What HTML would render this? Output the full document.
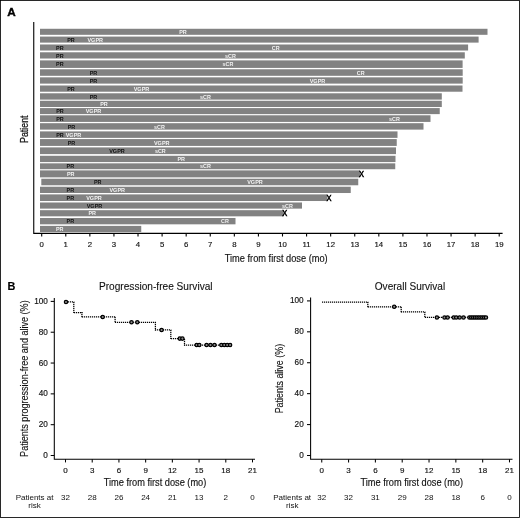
<!DOCTYPE html>
<html><head><meta charset="utf-8"><title>Figure</title>
<style>html,body{margin:0;padding:0;background:#fff}body{width:520px;height:518px;overflow:hidden}svg{display:block;will-change:transform;filter:grayscale(1)}text{font-family:"Liberation Sans",sans-serif}</style>
</head><body>
<svg width="520" height="518" viewBox="0 0 520 518">
<rect x="0" y="0" width="520" height="518" fill="#fff"/>
<rect x="0.42" y="0.42" width="519.16" height="517.16" fill="none" stroke="#000" stroke-width="0.84"/>
<defs><filter id="soft" x="0" y="0" width="520" height="518" filterUnits="userSpaceOnUse"><feGaussianBlur stdDeviation="0.32"/></filter></defs>
<g filter="url(#soft)">
<text x="7.3" y="15.9" font-size="11.7" font-weight="bold" fill="#000" stroke="#000" stroke-width="0.4">A</text>
<text x="7.6" y="290.3" font-size="11.7" font-weight="bold" fill="#000" stroke="#000" stroke-width="0.15" textLength="7.9" lengthAdjust="spacingAndGlyphs">B</text>
<g fill="#828282">
<rect x="40.00" y="28.78" width="447.50" height="6.04"/>
<rect x="40.00" y="36.58" width="438.60" height="6.04"/>
<rect x="40.00" y="44.48" width="428.10" height="6.04"/>
<rect x="40.00" y="52.28" width="424.80" height="6.24"/>
<rect x="40.00" y="60.38" width="422.60" height="7.54"/>
<rect x="40.00" y="69.28" width="422.70" height="6.54"/>
<rect x="40.00" y="77.33" width="422.70" height="6.29"/>
<rect x="40.00" y="85.48" width="422.50" height="6.24"/>
<rect x="40.00" y="93.28" width="401.80" height="6.34"/>
<rect x="40.00" y="100.78" width="401.80" height="6.24"/>
<rect x="40.00" y="108.08" width="399.75" height="6.04"/>
<rect x="40.00" y="115.28" width="390.50" height="6.64"/>
<rect x="40.00" y="123.18" width="383.50" height="6.44"/>
<rect x="40.00" y="131.38" width="357.50" height="6.49"/>
<rect x="40.00" y="139.08" width="356.75" height="6.84"/>
<rect x="40.00" y="147.38" width="356.00" height="6.74"/>
<rect x="40.00" y="155.78" width="355.50" height="6.29"/>
<rect x="40.00" y="163.33" width="355.25" height="5.89"/>
<rect x="40.00" y="170.38" width="320.00" height="6.99"/>
<rect x="41.30" y="178.73" width="316.95" height="6.54"/>
<rect x="40.00" y="186.73" width="310.75" height="6.29"/>
<rect x="40.00" y="194.38" width="287.50" height="6.64"/>
<rect x="40.00" y="202.48" width="262.00" height="6.14"/>
<rect x="40.00" y="210.18" width="243.75" height="6.14"/>
<rect x="40.00" y="217.98" width="195.50" height="6.34"/>
<rect x="40.00" y="225.88" width="101.25" height="6.14"/>
</g>
<g font-size="5.8" font-weight="bold" text-anchor="middle">
<text x="183.00" y="33.90" fill="#f2f2f2" textLength="7.6" lengthAdjust="spacingAndGlyphs">PR</text>
<text x="71.00" y="41.70" fill="#111" textLength="7.6" lengthAdjust="spacingAndGlyphs">PR</text>
<text x="95.25" y="41.70" fill="#f2f2f2" textLength="15.6" lengthAdjust="spacingAndGlyphs">VGPR</text>
<text x="59.90" y="49.60" fill="#111" textLength="7.6" lengthAdjust="spacingAndGlyphs">PR</text>
<text x="275.75" y="49.60" fill="#f2f2f2" textLength="7.8" lengthAdjust="spacingAndGlyphs">CR</text>
<text x="59.90" y="57.50" fill="#111" textLength="7.6" lengthAdjust="spacingAndGlyphs">PR</text>
<text x="230.50" y="57.50" fill="#f2f2f2" textLength="10.8" lengthAdjust="spacingAndGlyphs">sCR</text>
<text x="59.90" y="66.25" fill="#111" textLength="7.6" lengthAdjust="spacingAndGlyphs">PR</text>
<text x="228.00" y="66.25" fill="#f2f2f2" textLength="10.8" lengthAdjust="spacingAndGlyphs">sCR</text>
<text x="93.50" y="74.65" fill="#111" textLength="7.6" lengthAdjust="spacingAndGlyphs">PR</text>
<text x="360.75" y="74.65" fill="#f2f2f2" textLength="7.8" lengthAdjust="spacingAndGlyphs">CR</text>
<text x="93.50" y="82.57" fill="#111" textLength="7.6" lengthAdjust="spacingAndGlyphs">PR</text>
<text x="317.50" y="82.57" fill="#f2f2f2" textLength="15.6" lengthAdjust="spacingAndGlyphs">VGPR</text>
<text x="71.00" y="90.70" fill="#111" textLength="7.6" lengthAdjust="spacingAndGlyphs">PR</text>
<text x="141.50" y="90.70" fill="#f2f2f2" textLength="15.6" lengthAdjust="spacingAndGlyphs">VGPR</text>
<text x="93.50" y="98.55" fill="#111" textLength="7.6" lengthAdjust="spacingAndGlyphs">PR</text>
<text x="205.50" y="98.55" fill="#f2f2f2" textLength="10.8" lengthAdjust="spacingAndGlyphs">sCR</text>
<text x="104.00" y="106.00" fill="#f2f2f2" textLength="7.6" lengthAdjust="spacingAndGlyphs">PR</text>
<text x="60.00" y="113.20" fill="#111" textLength="7.6" lengthAdjust="spacingAndGlyphs">PR</text>
<text x="93.50" y="113.20" fill="#f2f2f2" textLength="15.6" lengthAdjust="spacingAndGlyphs">VGPR</text>
<text x="60.00" y="120.70" fill="#111" textLength="7.6" lengthAdjust="spacingAndGlyphs">PR</text>
<text x="394.50" y="120.70" fill="#f2f2f2" textLength="10.8" lengthAdjust="spacingAndGlyphs">sCR</text>
<text x="71.50" y="128.50" fill="#111" textLength="7.6" lengthAdjust="spacingAndGlyphs">PR</text>
<text x="159.50" y="128.50" fill="#f2f2f2" textLength="10.8" lengthAdjust="spacingAndGlyphs">sCR</text>
<text x="60.00" y="136.72" fill="#111" textLength="7.6" lengthAdjust="spacingAndGlyphs">PR</text>
<text x="73.50" y="136.72" fill="#f2f2f2" textLength="15.6" lengthAdjust="spacingAndGlyphs">VGPR</text>
<text x="71.50" y="144.60" fill="#111" textLength="7.6" lengthAdjust="spacingAndGlyphs">PR</text>
<text x="161.75" y="144.60" fill="#f2f2f2" textLength="15.6" lengthAdjust="spacingAndGlyphs">VGPR</text>
<text x="117.00" y="152.85" fill="#111" textLength="15.6" lengthAdjust="spacingAndGlyphs">VGPR</text>
<text x="160.30" y="152.85" fill="#f2f2f2" textLength="10.8" lengthAdjust="spacingAndGlyphs">sCR</text>
<text x="181.25" y="161.03" fill="#f2f2f2" textLength="7.6" lengthAdjust="spacingAndGlyphs">PR</text>
<text x="70.40" y="168.37" fill="#111" textLength="7.6" lengthAdjust="spacingAndGlyphs">PR</text>
<text x="205.50" y="168.37" fill="#f2f2f2" textLength="10.8" lengthAdjust="spacingAndGlyphs">sCR</text>
<text x="70.75" y="175.97" fill="#f2f2f2" textLength="7.6" lengthAdjust="spacingAndGlyphs">PR</text>
<text x="97.75" y="184.10" fill="#111" textLength="7.6" lengthAdjust="spacingAndGlyphs">PR</text>
<text x="255.00" y="184.10" fill="#f2f2f2" textLength="15.6" lengthAdjust="spacingAndGlyphs">VGPR</text>
<text x="70.40" y="191.97" fill="#111" textLength="7.6" lengthAdjust="spacingAndGlyphs">PR</text>
<text x="117.25" y="191.97" fill="#f2f2f2" textLength="15.6" lengthAdjust="spacingAndGlyphs">VGPR</text>
<text x="70.40" y="199.80" fill="#111" textLength="7.6" lengthAdjust="spacingAndGlyphs">PR</text>
<text x="94.00" y="199.80" fill="#f2f2f2" textLength="15.6" lengthAdjust="spacingAndGlyphs">VGPR</text>
<text x="94.50" y="207.65" fill="#111" textLength="15.6" lengthAdjust="spacingAndGlyphs">VGPR</text>
<text x="287.50" y="207.65" fill="#f2f2f2" textLength="10.8" lengthAdjust="spacingAndGlyphs">sCR</text>
<text x="92.25" y="215.35" fill="#f2f2f2" textLength="7.6" lengthAdjust="spacingAndGlyphs">PR</text>
<text x="70.40" y="223.25" fill="#111" textLength="7.6" lengthAdjust="spacingAndGlyphs">PR</text>
<text x="225.00" y="223.25" fill="#f2f2f2" textLength="7.8" lengthAdjust="spacingAndGlyphs">CR</text>
<text x="59.75" y="231.05" fill="#f2f2f2" textLength="7.6" lengthAdjust="spacingAndGlyphs">PR</text>
</g>
<g font-size="8.2" text-anchor="middle" fill="#000" stroke="#000" stroke-width="0.5">
<text x="361.60" y="176.78" textLength="5" lengthAdjust="spacingAndGlyphs">X</text>
<text x="328.90" y="200.60" textLength="5" lengthAdjust="spacingAndGlyphs">X</text>
<text x="284.80" y="216.15" textLength="5" lengthAdjust="spacingAndGlyphs">X</text>
</g>
<g stroke="#000" stroke-width="1.1" fill="none">
<path d="M33.75 22 V233.4 H502.6"/>
<path d="M41.70 233 V236.5"/>
<path d="M65.78 233 V236.5"/>
<path d="M89.86 233 V236.5"/>
<path d="M113.94 233 V236.5"/>
<path d="M138.02 233 V236.5"/>
<path d="M162.10 233 V236.5"/>
<path d="M186.18 233 V236.5"/>
<path d="M210.26 233 V236.5"/>
<path d="M234.34 233 V236.5"/>
<path d="M258.42 233 V236.5"/>
<path d="M282.50 233 V236.5"/>
<path d="M306.58 233 V236.5"/>
<path d="M330.66 233 V236.5"/>
<path d="M354.74 233 V236.5"/>
<path d="M378.82 233 V236.5"/>
<path d="M402.90 233 V236.5"/>
<path d="M426.98 233 V236.5"/>
<path d="M451.06 233 V236.5"/>
<path d="M475.14 233 V236.5"/>
<path d="M499.22 233 V236.5"/>
</g>
<g font-size="7.8" text-anchor="middle" fill="#111" stroke="#111" stroke-width="0.15">
<text x="41.70" y="247.1">0</text>
<text x="65.78" y="247.1">1</text>
<text x="89.86" y="247.1">2</text>
<text x="113.94" y="247.1">3</text>
<text x="138.02" y="247.1">4</text>
<text x="162.10" y="247.1">5</text>
<text x="186.18" y="247.1">6</text>
<text x="210.26" y="247.1">7</text>
<text x="234.34" y="247.1">8</text>
<text x="258.42" y="247.1">9</text>
<text x="282.50" y="247.1">10</text>
<text x="306.58" y="247.1">11</text>
<text x="330.66" y="247.1">12</text>
<text x="354.74" y="247.1">13</text>
<text x="378.82" y="247.1">14</text>
<text x="402.90" y="247.1">15</text>
<text x="426.98" y="247.1">16</text>
<text x="451.06" y="247.1">17</text>
<text x="475.14" y="247.1">18</text>
<text x="499.22" y="247.1">19</text>
</g>
<text x="276.2" y="261.6" font-size="10.5" text-anchor="middle" fill="#111" stroke="#111" stroke-width="0.15" textLength="103" lengthAdjust="spacingAndGlyphs">Time from first dose (mo)</text>
<text transform="translate(28.4,129.2) rotate(-90)" font-size="10.5" text-anchor="middle" fill="#111" stroke="#111" stroke-width="0.25" textLength="27.4" lengthAdjust="spacingAndGlyphs">Patient</text>
<g stroke="#000" stroke-width="1.05" fill="none">
<path d="M54.30 298.00 V459.20 H255.00"/>
<path d="M50.70 301.40 H54.30"/>
<path d="M50.70 332.22 H54.30"/>
<path d="M50.70 363.04 H54.30"/>
<path d="M50.70 393.86 H54.30"/>
<path d="M50.70 424.68 H54.30"/>
<path d="M50.70 455.50 H54.30"/>
<path d="M65.50 459.20 V462.40"/>
<path d="M92.22 459.20 V462.40"/>
<path d="M118.93 459.20 V462.40"/>
<path d="M145.64 459.20 V462.40"/>
<path d="M172.36 459.20 V462.40"/>
<path d="M199.07 459.20 V462.40"/>
<path d="M225.79 459.20 V462.40"/>
<path d="M252.50 459.20 V462.40"/>
</g>
<g font-size="8.2" text-anchor="end" fill="#111" stroke="#111" stroke-width="0.15">
<text x="47.90" y="303.90">100</text>
<text x="47.90" y="334.72">80</text>
<text x="47.90" y="365.54">60</text>
<text x="47.90" y="396.36">40</text>
<text x="47.90" y="427.18">20</text>
<text x="47.90" y="458.00">0</text>
</g>
<g font-size="8" text-anchor="middle" fill="#111" stroke="#111" stroke-width="0.15">
<text x="65.50" y="472.8">0</text>
<text x="92.22" y="472.8">3</text>
<text x="118.93" y="472.8">6</text>
<text x="145.64" y="472.8">9</text>
<text x="172.36" y="472.8">12</text>
<text x="199.07" y="472.8">15</text>
<text x="225.79" y="472.8">18</text>
<text x="252.50" y="472.8">21</text>
</g>
<g font-size="8" text-anchor="middle" fill="#111">
<text x="65.50" y="499.6">32</text>
<text x="92.22" y="499.6">28</text>
<text x="118.93" y="499.6">26</text>
<text x="145.64" y="499.6">24</text>
<text x="172.36" y="499.6">21</text>
<text x="199.07" y="499.6">13</text>
<text x="225.79" y="499.6">2</text>
<text x="252.50" y="499.6">0</text>
<text x="34.60" y="499.6">Patients at</text>
<text x="34.60" y="508.2">risk</text>
</g>
<text x="155.00" y="486.4" font-size="10.5" text-anchor="middle" fill="#111" stroke="#111" stroke-width="0.15" textLength="102.6" lengthAdjust="spacingAndGlyphs">Time from first dose (mo)</text>
<text x="155.80" y="289.7" font-size="10.1" text-anchor="middle" fill="#111" stroke="#111" stroke-width="0.1" textLength="113.6" lengthAdjust="spacingAndGlyphs">Progression-free Survival</text>
<text transform="translate(28.40,378.60) rotate(-90)" font-size="10.5" text-anchor="middle" fill="#111" stroke="#111" stroke-width="0.12" textLength="156.6" lengthAdjust="spacingAndGlyphs">Patients progression-free and alive (%)</text>
<g fill="none" stroke="#000" stroke-width="1.25" stroke-dasharray="1.2 0.8">
<path d="M66.00 301.80 H74.30"/>
<path d="M73.80 302.00 V313.00"/>
<path d="M74.00 312.50 H82.40"/>
<path d="M81.90 312.00 V317.30"/>
<path d="M82.00 316.80 H115.60"/>
<path d="M115.10 317.00 V322.80"/>
<path d="M115.00 322.30 H155.90"/>
<path d="M155.40 322.00 V330.40"/>
<path d="M155.00 329.90 H171.30"/>
<path d="M170.80 330.00 V339.10"/>
<path d="M171.00 338.60 H185.00"/>
<path d="M184.50 339.00 V345.50"/>
<path d="M184.00 345.00 H231.50"/>
</g>
<g fill="#8c8c8c" stroke="#000" stroke-width="1.25">
<circle cx="66.00" cy="301.90" r="1.65"/>
<circle cx="102.70" cy="316.90" r="1.65"/>
<circle cx="131.50" cy="322.30" r="1.65"/>
<circle cx="137.30" cy="322.30" r="1.65"/>
<circle cx="161.60" cy="329.90" r="1.65"/>
<circle cx="179.80" cy="338.60" r="1.65"/>
<circle cx="182.40" cy="338.60" r="1.65"/>
<circle cx="196.70" cy="345.00" r="1.65"/>
<circle cx="199.30" cy="345.00" r="1.65"/>
<circle cx="206.60" cy="345.00" r="1.65"/>
<circle cx="210.50" cy="345.00" r="1.65"/>
<circle cx="214.50" cy="345.00" r="1.65"/>
<circle cx="221.30" cy="345.00" r="1.65"/>
<circle cx="224.30" cy="345.00" r="1.65"/>
<circle cx="227.20" cy="345.00" r="1.65"/>
<circle cx="230.10" cy="345.00" r="1.65"/>
</g>
<g stroke="#000" stroke-width="1.05" fill="none">
<path d="M310.60 297.60 V459.20 H512.50"/>
<path d="M307.00 300.90 H310.60"/>
<path d="M307.00 331.82 H310.60"/>
<path d="M307.00 362.74 H310.60"/>
<path d="M307.00 393.66 H310.60"/>
<path d="M307.00 424.58 H310.60"/>
<path d="M307.00 455.50 H310.60"/>
<path d="M321.75 459.20 V462.40"/>
<path d="M348.57 459.20 V462.40"/>
<path d="M375.39 459.20 V462.40"/>
<path d="M402.21 459.20 V462.40"/>
<path d="M429.03 459.20 V462.40"/>
<path d="M455.85 459.20 V462.40"/>
<path d="M482.67 459.20 V462.40"/>
<path d="M509.49 459.20 V462.40"/>
</g>
<g font-size="8.2" text-anchor="end" fill="#111" stroke="#111" stroke-width="0.15">
<text x="303.70" y="303.40">100</text>
<text x="303.70" y="334.32">80</text>
<text x="303.70" y="365.24">60</text>
<text x="303.70" y="396.16">40</text>
<text x="303.70" y="427.08">20</text>
<text x="303.70" y="458.00">0</text>
</g>
<g font-size="8" text-anchor="middle" fill="#111" stroke="#111" stroke-width="0.15">
<text x="321.75" y="472.8">0</text>
<text x="348.57" y="472.8">3</text>
<text x="375.39" y="472.8">6</text>
<text x="402.21" y="472.8">9</text>
<text x="429.03" y="472.8">12</text>
<text x="455.85" y="472.8">15</text>
<text x="482.67" y="472.8">18</text>
<text x="509.49" y="472.8">21</text>
</g>
<g font-size="8" text-anchor="middle" fill="#111">
<text x="321.75" y="499.6">32</text>
<text x="348.57" y="499.6">32</text>
<text x="375.39" y="499.6">31</text>
<text x="402.21" y="499.6">29</text>
<text x="429.03" y="499.6">28</text>
<text x="455.85" y="499.6">18</text>
<text x="482.67" y="499.6">6</text>
<text x="509.49" y="499.6">0</text>
<text x="292.20" y="499.6">Patients at</text>
<text x="292.20" y="508.2">risk</text>
</g>
<text x="411.75" y="486.4" font-size="10.5" text-anchor="middle" fill="#111" stroke="#111" stroke-width="0.15" textLength="102.6" lengthAdjust="spacingAndGlyphs">Time from first dose (mo)</text>
<text x="410.00" y="289.7" font-size="10.1" text-anchor="middle" fill="#111" stroke="#111" stroke-width="0.1" textLength="70.4" lengthAdjust="spacingAndGlyphs">Overall Survival</text>
<text transform="translate(283.00,378.60) rotate(-90)" font-size="10.5" text-anchor="middle" fill="#111" stroke="#111" stroke-width="0.12" textLength="69.5" lengthAdjust="spacingAndGlyphs">Patients alive (%)</text>
<g fill="none" stroke="#000" stroke-width="1.25" stroke-dasharray="1.2 0.8">
<path d="M322.00 302.10 H368.30"/>
<path d="M367.80 302.00 V307.30"/>
<path d="M368.00 306.80 H401.70"/>
<path d="M401.20 307.00 V312.30"/>
<path d="M401.00 311.80 H425.30"/>
<path d="M424.80 312.00 V317.95"/>
<path d="M425.00 317.45 H487.50"/>
</g>
<g fill="#8c8c8c" stroke="#000" stroke-width="1.25">
<circle cx="394.20" cy="306.80" r="1.65"/>
<circle cx="436.90" cy="317.45" r="1.65"/>
<circle cx="444.50" cy="317.45" r="1.65"/>
<circle cx="447.60" cy="317.45" r="1.65"/>
<circle cx="453.70" cy="317.45" r="1.65"/>
<circle cx="456.20" cy="317.45" r="1.65"/>
<circle cx="459.60" cy="317.45" r="1.65"/>
<circle cx="463.50" cy="317.45" r="1.65"/>
<circle cx="469.40" cy="317.45" r="1.65"/>
<circle cx="471.24" cy="317.45" r="1.65"/>
<circle cx="473.08" cy="317.45" r="1.65"/>
<circle cx="474.92" cy="317.45" r="1.65"/>
<circle cx="476.76" cy="317.45" r="1.65"/>
<circle cx="478.60" cy="317.45" r="1.65"/>
<circle cx="480.44" cy="317.45" r="1.65"/>
<circle cx="482.28" cy="317.45" r="1.65"/>
<circle cx="484.12" cy="317.45" r="1.65"/>
<circle cx="485.96" cy="317.45" r="1.65"/>
</g>
</g>
</svg>
</body></html>
